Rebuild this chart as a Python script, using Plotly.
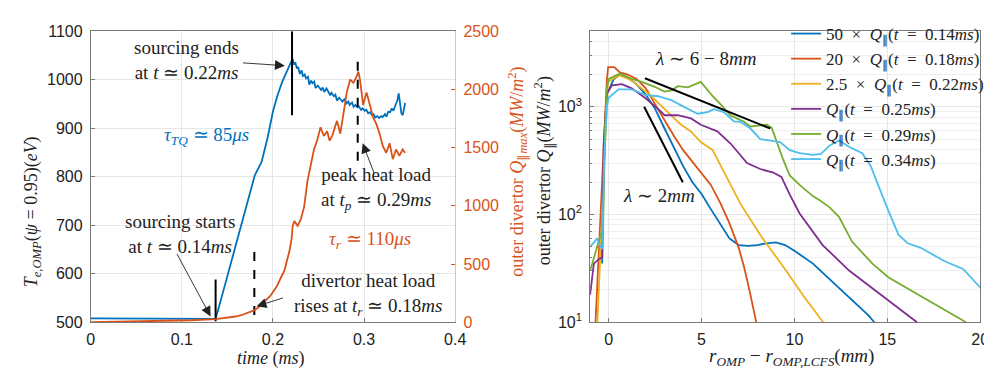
import plotly.graph_objects as go

# ---------------- Left panel data ----------------
# T_e,OMP (eV) vs time (ms)
t_te = [0.0, 0.05, 0.10, 0.137, 0.145, 0.151, 0.16, 0.166, 0.173, 0.18, 0.1874, 0.194, 0.2, 0.205, 0.21,
        0.215, 0.219, 0.2216, 0.2232, 0.2245, 0.2262, 0.2275, 0.2295, 0.2315, 0.2328, 0.2348, 0.2362, 0.2385,
        0.2398, 0.2418, 0.2433, 0.2452, 0.2468, 0.2492, 0.2505, 0.2528, 0.2545, 0.2562, 0.2588, 0.2605, 0.2628,
        0.2642, 0.2668, 0.2685, 0.2702, 0.2725, 0.2745, 0.2762, 0.2788, 0.2805, 0.2828, 0.2842, 0.2868, 0.2885,
        0.2905, 0.2925, 0.2942, 0.2968, 0.2985, 0.3008, 0.3025, 0.3045, 0.3068, 0.3085, 0.3105, 0.3122, 0.3145,
        0.3165, 0.3188, 0.3205, 0.3228, 0.3245, 0.3265, 0.3285, 0.3305, 0.3322, 0.3345, 0.3365, 0.338, 0.3395,
        0.341, 0.3425, 0.344, 0.345]
te = [508, 508, 508, 507, 561, 603, 665, 706, 755, 803, 830, 880, 935, 968, 995,
      1018, 1033, 1043, 1031, 1036, 1023, 1027, 1012, 1019, 1008, 1011, 1003, 1006,
      990, 998, 993, 996, 983, 988, 985, 979, 984, 975, 982, 977, 968, 973,
      966, 969, 957, 963, 959, 955, 961, 951, 955, 948, 953, 944, 948,
      943, 945, 938, 941, 936, 938, 931, 933, 927, 929, 922, 925, 921,
      925, 923, 929, 924, 934, 933, 941, 936, 948, 957, 972, 950, 930,
      927, 944, 952, 947]

# Outer divertor peak heat flux Q_||max (MW/m^2) vs time (ms)
t_q = [0.0, 0.03, 0.06, 0.09, 0.11, 0.137, 0.15, 0.159, 0.165, 0.17, 0.175, 0.18, 0.185, 0.19, 0.197,
       0.2018, 0.205, 0.2085, 0.2126, 0.215, 0.218, 0.2205, 0.2216, 0.2234, 0.227, 0.2306, 0.2342,
       0.2378, 0.2414, 0.245, 0.2486, 0.2522, 0.2558, 0.2594, 0.2622, 0.265, 0.2685, 0.2703, 0.2739,
       0.2775, 0.281, 0.2847, 0.2883, 0.2919, 0.2937, 0.2955, 0.299, 0.3027, 0.3063, 0.31, 0.3135,
       0.317, 0.3207, 0.3243, 0.328, 0.3315, 0.3351, 0.3387, 0.3423, 0.345]
qmax = [0, 4, 8, 13, 17, 27, 38, 49, 60, 76, 88, 104, 135, 172, 225,
        281, 320, 380, 445, 520, 609, 720, 828, 869, 828, 885, 992,
        1213, 1347, 1484, 1566, 1675, 1600, 1640, 1560, 1600, 1689, 1730, 1620,
        1812, 1975, 2085, 2057, 2112, 2153, 2085, 1866, 1975, 1866, 1757, 1702,
        1620, 1511, 1456, 1538, 1401, 1484, 1429, 1484, 1456]

# event markers (vertical lines) : time, lower T, upper T, style
marker_t = [0.137, 0.1795, 0.2209, 0.293]
marker_lo = [502, 515, 927, 833]
marker_hi = [588, 663, 1100, 1047]
marker_dash = ["solid", "dash", "solid", "dash"]

# ---------------- Right panel data ----------------
r_a = [-0.35, -0.3, -0.2, -0.1, 0.27, 0.62, 1.0, 1.5, 2.0, 2.5, 3.0, 3.5, 4.0, 4.5, 5.0, 5.5, 6.0, 6.5,
       7.0, 7.5, 8.0, 8.5, 9.0, 9.5, 10.0, 10.5, 11.0, 11.5, 12.0, 12.5, 13.0, 13.5, 14.0, 14.3]
q_a = [35, 150, 700, 1300, 1800, 2000, 1862, 1622, 1288, 955, 631, 427, 282, 200, 155, 112, 83, 60,
       52, 51, 52, 54, 55, 52, 46, 40, 35, 29, 24, 20, 16.6, 13.8, 11.5, 10]

r_b = [-0.72, -0.5, -0.3, -0.1, -0.03, 0.3, 0.6, 1.0, 1.5, 2.0, 2.5, 3.0, 3.5, 4.0, 4.5, 5.0, 5.5, 6.0,
       6.5, 7.0, 7.3, 7.6, 7.8, 7.95, 8.0]
q_b = [9, 56, 370, 1750, 2330, 2330, 2080, 2000, 1810, 1480, 1050, 750, 540, 397, 312, 245, 188, 129,
       83, 49, 32, 19, 13.5, 10, 9]

r_c = [-0.62, -0.4, -0.2, -0.04, 0.3, 0.6, 1.24, 1.77, 2.3, 3.0, 3.9, 4.43, 4.96, 5.59, 6.38, 7.09,
       8.2, 9.5, 10.5, 11.55]
q_c = [9, 60, 350, 1700, 1850, 1950, 1750, 1480, 1250, 955, 680, 590, 470, 397, 215, 126,
       63, 31, 17.4, 10]

r_d = [-1.0, -0.8, -0.53, -0.35, -0.27, -0.09, 0.18, 0.71, 1.24, 1.95, 2.66, 3.01, 3.72, 4.43, 4.96,
       5.85, 6.56, 7.45, 8.16, 8.86, 9.3, 9.75, 10.28, 11.52, 12.96, 14.56, 15.6, 16.6]
q_d = [18, 35, 38.5, 40, 455, 1340, 1580, 1620, 1480, 1210, 955, 833, 833, 778, 680,
       590, 455, 300, 264, 245, 223, 153, 102, 52, 30, 18.6, 13.7, 10]

r_e = [-1.0, -0.7, -0.44, -0.3, -0.2, -0.1, 0.0, 0.62, 1.24, 1.77, 2.48, 3.0, 3.4, 3.72, 4.26, 4.96,
       5.6, 6.03, 6.56, 6.9, 7.27, 7.62, 8.0, 8.51, 8.78, 8.95, 9.39, 9.75, 10.28, 10.99, 11.4, 11.88,
       12.4, 13.1, 14.2, 15.07, 16.5, 17.7, 19.24]
q_e = [30, 46, 64, 75, 600, 1500, 1810, 2030, 1810, 1700, 1530, 1380, 1420, 1550, 1510, 1700,
       1250, 1050, 830, 780, 730, 655, 670, 680, 635, 520, 324, 230, 188, 148, 134, 117,
       95, 56, 35, 26, 18.7, 14.4, 10]

r_f = [-1.0, -0.8, -0.62, -0.45, -0.35, -0.25, -0.1, 0.0, 0.53, 1.24, 1.95, 2.66, 3.37, 4.08, 4.79,
       5.32, 5.67, 6.2, 6.74, 7.09, 7.62, 8.16, 8.7, 9.23, 9.75, 10.28, 10.99, 11.43, 11.9, 12.4,
       12.94, 13.65, 14.1, 14.5, 14.98, 15.6, 16.1, 16.8, 18.07, 19.1, 20.0]
q_f = [50, 55, 60, 50, 48, 300, 1000, 1210, 1450, 1450, 1290, 1250, 1150, 990, 860,
       890, 950, 890, 730, 725, 630, 500, 485, 470, 395, 370, 357, 365, 437, 485,
       425, 370, 283, 188, 117, 65, 54, 49, 37, 31, 21]

profile_r = [r_a, r_b, r_c, r_d, r_e, r_f]
profile_q = [q_a, q_b, q_c, q_d, q_e, q_f]
SP = "\u2002"
profile_names = [
    f"50{SP}×{SP}<i>Q</i><sub>∥</sub>(<i>t</i>{SP}={SP}0.14<i>ms</i>)",
    f"20{SP}×{SP}<i>Q</i><sub>∥</sub>(<i>t</i>{SP}={SP}0.18<i>ms</i>)",
    f"2.5{SP}×{SP}<i>Q</i><sub>∥</sub>(<i>t</i>{SP}={SP}0.22<i>ms</i>)",
    f"<i>Q</i><sub>∥</sub>(<i>t</i>{SP}={SP}0.25<i>ms</i>)",
    f"<i>Q</i><sub>∥</sub>(<i>t</i>{SP}={SP}0.29<i>ms</i>)",
    f"<i>Q</i><sub>∥</sub>(<i>t</i>{SP}={SP}0.34<i>ms</i>)",
]
profile_colors = ["#0072BD", "#D95319", "#EDB120", "#7E2F8E", "#77AC30", "#4DBEEE"]

# decay-length guide lines
lam_wide_r = [1.95, 8.7]
lam_wide_q = [1838, 627]
lam_narrow_r = [1.91, 3.99]
lam_narrow_q = [1000, 199]

# axis ticks
left_xticks = [0, 0.1, 0.2, 0.3, 0.4]
left_yticks = [500, 600, 700, 800, 900, 1000, 1100]
right_q_ticks = [0, 500, 1000, 1500, 2000, 2500]
prof_xticks = [0, 5, 10, 15, 20]
prof_yticks = [10, 100, 1000]
prof_yticktext = ["10<sup>1</sup>", "10<sup>2</sup>", "10<sup>3</sup>"]

BLUE = "#0072BD"
ORANGE = "#D95319"
SERIF = "Liberation Serif"
SANS = "Liberation Sans"
GRID = "#e6e6e6"
AX = "#7a7a7a"

W, H = 992, 369
def px(x):
    return x / W
def py(y):
    return (H - y) / H

fig = go.Figure()

# left panel traces
fig.add_trace(go.Scatter(x=t_te, y=te, mode="lines", line=dict(color=BLUE, width=1.8),
                         xaxis="x", yaxis="y", showlegend=False))
fig.add_trace(go.Scatter(x=t_q, y=qmax, mode="lines", line=dict(color=ORANGE, width=1.8),
                         xaxis="x", yaxis="y2", showlegend=False))
for t0, lo, hi, dash in zip(marker_t, marker_lo, marker_hi, marker_dash):
    fig.add_trace(go.Scatter(x=[t0, t0], y=[lo, hi], mode="lines",
                             line=dict(color="black", width=2, dash=dash),
                             xaxis="x", yaxis="y", showlegend=False, hoverinfo="skip"))

# right panel traces
for r, q, name, c in zip(profile_r, profile_q, profile_names, profile_colors):
    fig.add_trace(go.Scatter(x=r, y=q, mode="lines", name=name, line=dict(color=c, width=1.8),
                             xaxis="x2", yaxis="y3"))
for r, q in [(lam_wide_r, lam_wide_q), (lam_narrow_r, lam_narrow_q)]:
    fig.add_trace(go.Scatter(x=r, y=q, mode="lines", line=dict(color="black", width=2),
                             xaxis="x2", yaxis="y3", showlegend=False, hoverinfo="skip"))

tickfont = dict(family=SANS, size=16, color="#222")
fig.update_layout(
    width=W, height=H, margin=dict(l=0, r=0, t=0, b=0),
    paper_bgcolor="white", plot_bgcolor="white",
    xaxis=dict(domain=[px(80), px(450)], range=[0, 0.4], tickvals=left_xticks,
               ticktext=["0", "0.1", "0.2", "0.3", "0.4"],
               showgrid=True, gridcolor=GRID, zeroline=False, showline=True, linecolor=AX,
               mirror=True, ticks="inside", ticklen=4, tickcolor=AX, tickfont=tickfont,
               ticklabelstandoff=3, anchor="y"),
    yaxis=dict(domain=[py(321), py(16)], range=[500, 1100], tickvals=left_yticks,
               showgrid=True, gridcolor=GRID, zeroline=False, showline=True, linecolor=AX,
               ticks="inside", ticklen=4, tickcolor=AX, tickfont=tickfont, anchor="x",
               ticklabelstandoff=4),
    yaxis2=dict(overlaying="y", side="right", range=[0, 2500], tickvals=right_q_ticks,
                showgrid=False, zeroline=False, showline=True, linecolor="#F2B9A0",
                ticks="inside", ticklen=4, tickcolor=ORANGE,
                tickfont=dict(family=SANS, size=16, color=ORANGE), anchor="x",
                ticklabelstandoff=4),
    xaxis2=dict(domain=[px(587), px(983)], range=[-1, 20], tickvals=prof_xticks,
                showgrid=True, gridcolor=GRID, zeroline=False, showline=True, linecolor=AX,
                mirror=True, ticks="inside", ticklen=4, tickcolor=AX, tickfont=tickfont,
                ticklabelstandoff=3, anchor="y3"),
    yaxis3=dict(domain=[py(321), py(16)], type="log", range=[1, 3.7], tickvals=prof_yticks,
                ticktext=prof_yticktext, showgrid=True, gridcolor=GRID, zeroline=False,
                showline=True, linecolor=AX, mirror=True, ticks="inside", ticklen=4,
                tickcolor=AX, tickfont=tickfont, anchor="x2", ticklabelstandoff=4,
                minor=dict(tickmode="array",
                           tickvals=[m * 10 ** d for d in (1, 2, 3) for m in range(2, 10)],
                           showgrid=True, gridcolor="#efefef", ticks="inside", ticklen=2,
                           tickcolor=AX)),
    legend=dict(x=px(786), y=1.0, xanchor="left", yanchor="top",
                bgcolor="rgba(0,0,0,0)", font=dict(family=SERIF, size=17, color="#222"),
                itemwidth=30, tracegroupgap=0, itemclick=False),
)

ann = []
def txt(x, y, text, xref="x", yref="y", color="#222", size=19, **kw):
    ann.append(dict(x=x, y=y, xref=xref, yref=yref, text=text, showarrow=False,
                    xanchor="center", yanchor="middle",
                    font=dict(family=SERIF, size=size, color=color), **kw))

def arrow(x, y, ax, ay):
    ann.append(dict(x=x, y=y, ax=ax, ay=ay, xref="x", yref="y", axref="x", ayref="y",
                    text="", showarrow=True, arrowhead=2, arrowsize=2.2, arrowwidth=0.9,
                    arrowcolor="#222", standoff=0))

# left panel texts
txt(0.105, 1041, "sourcing ends<br>at <i>t</i> ≃ 0.22<i>ms</i>")
arrow(0.213, 1029, 0.1654, 1035)
txt(0.127, 884, "<i>τ<sub>TQ</sub></i> ≃ 85<i>μs</i>", color=BLUE)
txt(0.0975, 682, "sourcing starts<br>at <i>t</i> ≃ 0.14<i>ms</i>")
arrow(0.1315, 512, 0.0937, 644)
txt(0.304, 558, "divertor heat load<br>rises at <i>t<sub>r</sub></i> ≃ 0.18<i>ms</i>")
arrow(0.182, 533, 0.2126, 551)
txt(0.3135, 776, "peak heat load<br>at <i>t<sub>p</sub></i> ≃ 0.29<i>ms</i>")
arrow(0.2984, 869, 0.3117, 804)
txt(0.306, 669, "<i>τ<sub>r</sub></i> ≃ 110<i>μs</i>", color=ORANGE)

# right panel texts
txt(5.23, 3.449, "<i>λ</i> ∼ 6 − 8<i>mm</i>", xref="x2", yref="y3")
txt(2.70, 2.172, "<i>λ</i> ∼ 2<i>mm</i>", xref="x2", yref="y3")

# axis titles
txt(px(263), py(359), "<i>time</i> (<i>ms</i>)", xref="paper", yref="paper", size=18)
txt(px(791), py(357), "<i>r<sub>OMP</sub></i> − <i>r<sub>OMP,LCFS</sub></i>(<i>mm</i>)",
    xref="paper", yref="paper", size=19)
txt(px(21), py(205), "<i>T<sub>e,OMP</sub></i>(<i>ψ</i> = 0.95)(<i>eV</i>)", xref="paper",
    yref="paper", textangle=-90, size=18)
txt(px(513), py(163), "outer divertor <i>Q</i><sub>∥<i>max</i></sub>(<i>MW</i>/<i>m</i><sup>2</sup>)",
    xref="paper", yref="paper", color=ORANGE, textangle=-90, size=18)
txt(px(540), py(162), "outer divertor <i>Q</i><sub>∥</sub>(<i>MW</i>/<i>m</i><sup>2</sup>)",
    xref="paper", yref="paper", textangle=-90, size=18)

fig.update_layout(annotations=ann)
fig.write_html("out.html")
